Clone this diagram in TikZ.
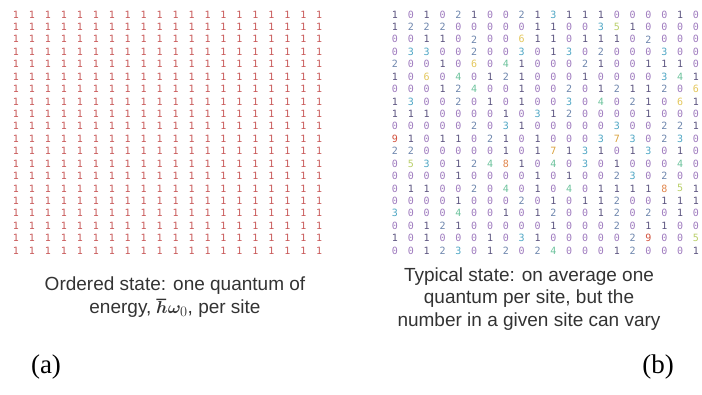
\documentclass[tikz,border=0pt]{standalone}
\usepackage{fontspec}
\usepackage{bm}
\setmainfont{Liberation Serif}
\newfontfamily\capfont{Liberation Sans}
\newfontfamily\gridfont{DejaVu Sans Mono}
\definecolor{onered}{RGB}{200,88,88}
\definecolor{q0}{RGB}{158,122,190}
\definecolor{q1}{RGB}{92,84,128}
\definecolor{q2}{RGB}{110,134,173}
\definecolor{q3}{RGB}{79,166,196}
\definecolor{q4}{RGB}{108,194,156}
\definecolor{q5}{RGB}{185,207,106}
\definecolor{q6}{RGB}{227,198,90}
\definecolor{q7}{RGB}{217,162,62}
\definecolor{q8}{RGB}{224,132,74}
\definecolor{q9}{RGB}{209,79,58}

\begin{document}
\begin{tikzpicture}[
    x=1pt, y=-1pt,
    site/.style={inner sep=0pt, font=\gridfont\fontsize{10}{10}\selectfont},
    caption/.style={align=center, text=black!80, font=\capfont\fontsize{19}{22.5}\selectfont},
    panel/.style={inner sep=0pt, font=\fontsize{27}{27}\selectfont}
]
\useasboundingbox (0,0) rectangle (702,394);
% ordered state: one quantum per site
\foreach \r in {1,...,20}
  \foreach \c in {1,...,20}
    \node[site, text=onered] (a-\r-\c) at ({16+(\c-1)*15.96},{14.5+(\r-1)*12.42}) {1};
% typical state
\foreach \row [count=\r] in {
    {1,0,1,0,2,1,0,0,2,1,3,1,1,1,0,0,0,0,1,0},
    {1,2,2,2,0,0,0,0,0,1,1,0,0,3,5,1,0,0,0,0},
    {0,0,1,1,0,2,0,0,6,1,1,0,1,1,1,0,2,0,0,0},
    {0,3,3,0,0,2,0,0,3,0,1,3,0,2,0,0,0,3,0,0},
    {2,0,0,1,0,6,0,4,1,0,0,0,2,1,0,0,1,1,1,0},
    {1,0,6,0,4,0,1,2,1,0,0,0,1,0,0,0,0,3,4,1},
    {0,0,0,1,2,4,0,0,1,0,0,2,0,1,2,1,1,2,0,6},
    {1,3,0,0,2,0,1,0,1,0,0,3,0,4,0,2,1,0,6,1},
    {1,1,1,0,0,0,0,1,0,3,1,2,0,0,0,0,1,0,0,0},
    {0,0,0,0,0,2,0,3,1,0,0,0,0,0,3,0,0,2,2,1},
    {9,1,0,1,1,0,2,1,0,1,0,0,0,3,7,3,0,2,3,0},
    {2,2,0,0,0,0,0,1,0,1,7,1,3,1,0,1,3,0,1,0},
    {0,5,3,0,1,2,4,8,1,0,4,0,3,0,1,0,0,0,4,0},
    {0,0,0,0,1,0,0,0,0,1,0,1,0,0,2,3,0,2,0,0},
    {0,1,1,0,0,2,0,4,0,1,0,4,0,1,1,1,1,8,5,1},
    {0,0,0,0,1,0,0,0,2,0,1,0,1,1,2,0,0,1,1,1},
    {3,0,0,0,4,0,0,1,0,1,2,0,0,1,2,0,2,0,1,0},
    {0,0,1,2,1,0,0,0,0,0,1,0,0,0,2,0,1,1,0,0},
    {1,0,1,0,0,0,1,0,3,1,0,0,0,0,0,2,9,0,0,5},
    {0,0,1,2,3,0,1,2,0,2,4,0,0,0,1,2,0,0,0,1}}
  \foreach \v [count=\c] in \row
    \node[site, text=q\v] (b-\r-\c) at ({395+(\c-1)*15.84},{14.5+(\r-1)*12.42}) {\v};
\node[caption] (capa) at (175,297) {Ordered state: one quantum of\\energy, $\bm{\hbar\omega}_0$, per site};
\node[caption] (capb) at (529,299) {Typical state: on average one\\quantum per site, but the\\number in a given site can vary};
\node[panel] (la) at (46,367) {(a)};
\node[panel] (lb) at (658,367) {(b)};
\end{tikzpicture}
\end{document}
